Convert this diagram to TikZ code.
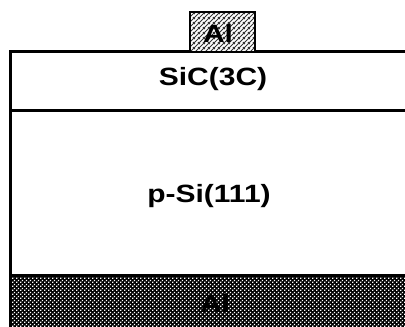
\documentclass[tikz,border=0pt]{standalone}
\usepackage{fontspec}
\setmainfont[FakeStretch=1.2]{Liberation Sans}
\usetikzlibrary{patterns.meta}

% diagonal hatching for the top contact
\tikzdeclarepattern{
  name=alHatch, type=uncolored,
  bounding box={(0pt,0pt) and (4.5pt,4.5pt)},
  tile size={(4.5pt,4.5pt)},
  code={
    \pgfsetlinewidth{1.1pt}
    \pgfpathmoveto{\pgfpoint{-1pt}{-1pt}}\pgfpathlineto{\pgfpoint{5.5pt}{5.5pt}}
    \pgfpathmoveto{\pgfpoint{-1pt}{3.5pt}}\pgfpathlineto{\pgfpoint{1pt}{5.5pt}}
    \pgfpathmoveto{\pgfpoint{3.5pt}{-1pt}}\pgfpathlineto{\pgfpoint{5.5pt}{1pt}}
    \pgfusepath{stroke}
  }
}
% dotted screen for the back contact
\tikzdeclarepattern{
  name=alDots, type=uncolored,
  bounding box={(0pt,0pt) and (4pt,4pt)},
  tile size={(4pt,4pt)},
  code={
    \pgfpathrectangle{\pgfpoint{0.2pt}{0.2pt}}{\pgfpoint{1.6pt}{1.6pt}}
    \pgfpathrectangle{\pgfpoint{2.2pt}{2.2pt}}{\pgfpoint{1.6pt}{1.6pt}}
    \pgfusepath{fill}
  }
}

\tikzset{
  layerline/.style={line width=3pt},
  label/.style={font=\bfseries\fontsize{25}{28}\selectfont, inner sep=0pt, anchor=base},
}

\begin{document}
\begin{tikzpicture}[x=1pt,y=1pt]
  \useasboundingbox (0,0) rectangle (405,327);

  % back contact
  \fill[black] (10.5,51) rectangle (405,0);
  \fill[pattern={alDots}, pattern color=white] (12,49) rectangle (405,0);

  % layer boundaries
  \draw[layerline] (405,275) -- (10.5,275) -- (10.5,0);
  \draw[layerline] (10.5,216) -- (405,216);
  \draw[layerline] (10.5,51) -- (405,51);

  % top contact
  \fill[white] (190,275) rectangle (255,315);
  \fill[pattern={alHatch}, pattern color=black!80] (190,275) rectangle (255,315);
  \draw[line width=2.5pt] (190,275) rectangle (255,315);

  % labels
  \node[label] (altop) at (218,284) {Al};
  \node[label] (sic) at (213,241) {SiC(3C)};
  \node[label] (si) at (209,124) {p-Si(111)};
  \node[label] (albot) at (215,14) {Al};
\end{tikzpicture}
\end{document}
